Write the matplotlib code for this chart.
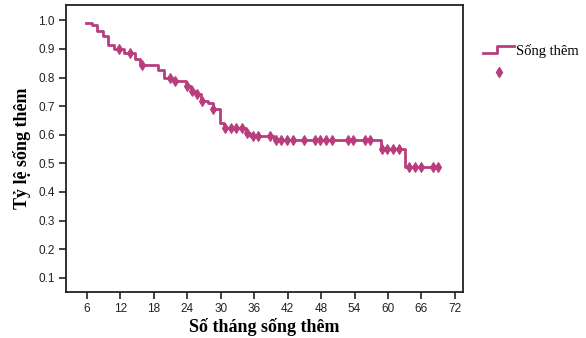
import numpy as np
import matplotlib
matplotlib.use("Agg")
import matplotlib.pyplot as plt
from matplotlib.lines import Line2D
from matplotlib.legend_handler import HandlerBase

# Kaplan-Meier step curve (time in months, survival after the step)
step_times = [5.9, 6.9, 7.9, 8.9, 9.8, 10.8, 12.6, 14.6, 15.5, 18.8, 19.8, 21.5,
              23.7, 24.6, 25.5, 26.5, 27.7, 28.6, 29.8, 30.5, 34.5, 35.3, 39.6,
              58.7, 63.0, 69.0]
step_surv = [0.99, 0.982, 0.963, 0.944, 0.913, 0.900, 0.885, 0.865, 0.844, 0.826,
             0.800, 0.789, 0.770, 0.753, 0.741, 0.718, 0.710, 0.689, 0.642, 0.622,
             0.605, 0.597, 0.580, 0.550, 0.488, 0.488]

# censored observations (months)
censor_times = [11.8, 13.75, 15.8, 20.9, 21.8, 23.9, 24.8, 25.7, 26.7, 28.7,
                30.8, 31.8, 32.8, 33.8, 34.8, 35.7, 36.7, 38.8, 39.9, 40.9,
                41.9, 42.9, 45.0, 46.9, 47.8, 48.9, 49.9, 52.9, 53.8, 55.9,
                56.8, 58.9, 59.9, 60.9, 62.0, 63.8, 64.8, 65.9, 68.0, 69.0]

xticks = list(range(6, 73, 6))
yticks = [0.1, 0.2, 0.3, 0.4, 0.5, 0.6, 0.7, 0.8, 0.9, 1.0]

color = "#b93d7c"

st = np.array(step_times)
sv = np.array(step_surv)
ct = np.array(censor_times)
cs = sv[np.searchsorted(st, ct, side="right") - 1]

fig = plt.figure(figsize=(5.86, 3.38), dpi=100)
ax = fig.add_axes([0.1121, 0.1352, 0.6785, 0.8508])

ax.step(st, sv, where="post", color=color, lw=2.0)
ax.plot(ct, cs, ls="none", marker="d", ms=5.2, color=color, mec=color, mew=0.8)

ax.set_xlim(2.2, 73.5)
ax.set_ylim(0.049, 1.0545)
ax.set_xticks(xticks)
ax.set_yticks(yticks)
ax.set_yticklabels([f"{v:.1f}" for v in yticks])
ax.tick_params(direction="out", length=5, width=1.2, labelsize=8.5, colors="#222222",
               labelcolor="#222222", pad=3)
for lab in ax.get_xticklabels() + ax.get_yticklabels():
    lab.set_family("Liberation Sans")
for s in ax.spines.values():
    s.set_linewidth(1.3)
    s.set_color("#222222")

ax.set_xlabel("Số tháng sống thêm", fontsize=13, fontweight="bold",
              family="Liberation Serif", labelpad=2)
ax.set_ylabel("Tỷ lệ sống thêm", fontsize=13, fontweight="bold",
              family="Liberation Serif", labelpad=5)


class StepHandler(HandlerBase):
    def create_artists(self, legend, orig_handle, xd, yd, w, h, fontsize, trans):
        xs = [xd, xd + w * 0.45, xd + w * 0.45, xd + w]
        ys = [yd + h * 0.15, yd + h * 0.15, yd + h * 0.85, yd + h * 0.85]
        ln = Line2D(xs, ys, color=color, lw=2.0, transform=trans)
        return [ln]


h_line = Line2D([], [], color=color)
h_mark = Line2D([], [], ls="none", marker="d", ms=5.2, color=color)
fig.legend([h_line, h_mark], ["Sống thêm", ""],
           handler_map={h_line: StepHandler()},
           loc="upper left", bbox_to_anchor=(0.815, 0.888), frameon=False,
           prop={"family": "Liberation Serif", "size": 10.5},
           handlelength=2.1, handletextpad=0.15, labelspacing=0.62, borderaxespad=0)

fig.savefig("out.png", dpi=100)
